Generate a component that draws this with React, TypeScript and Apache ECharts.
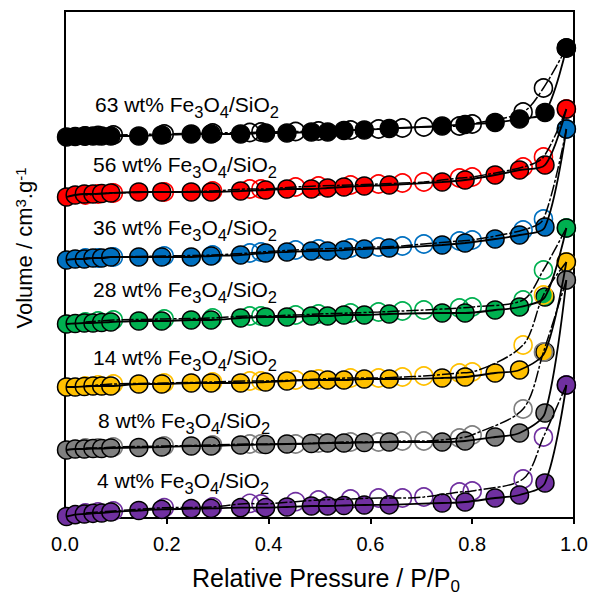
import { useEffect, useRef } from 'react';
import * as echarts from 'echarts';

// Relative pressure (P/P0) of the adsorption and desorption branches
const PRESSURE_ADS = [0.003, 0.02, 0.038, 0.055, 0.072, 0.09, 0.145, 0.19, 0.248, 0.287, 0.345, 0.394, 0.436, 0.484, 0.516, 0.548, 0.588, 0.637, 0.741, 0.786, 0.845, 0.893, 0.943, 0.985];
const PRESSURE_DES = [0.985, 0.94, 0.9, 0.8, 0.775, 0.705, 0.663, 0.616, 0.561, 0.498, 0.453, 0.385, 0.363, 0.29, 0.195, 0.095, 0.065, 0.04];

// Fe3O4 loading (wt%) and colour of each sample
const LOADINGS = [63, 56, 36, 28, 14, 8, 4];
const COLORS = ['#000000', '#FF0000', '#0070C0', '#00B050', '#FFC000', '#808080', '#7030A0'];

// Adsorbed volume, stacked with vertical offsets (arbitrary units)
const ADS_63 = [381, 381.5, 382, 382, 382, 382, 382, 383, 384, 384, 384, 385, 385, 386, 386, 387.5, 388, 389.5, 392, 393.5, 395.5, 399, 405.5, 470];
const DES_63 = [470, 430, 406, 394, 392, 391, 390, 389, 388, 387, 386.5, 386, 385.5, 385, 384, 383, 382.5, 382];

const ADS_56 = [321, 323, 324, 324, 324.5, 325, 326, 326, 326, 326, 327, 328, 329, 329, 330, 331, 332, 333, 336, 338, 343, 348, 353, 409];
const DES_56 = [409, 361, 351, 341, 340, 336, 335, 334, 333, 332, 331, 329, 329, 327, 326, 325, 324, 323];

const ADS_36 = [258, 259, 259, 260, 260, 261, 261, 261, 261, 262, 263, 265, 266, 267, 267, 268, 269, 270, 273, 275, 279, 283, 291, 389];
const DES_36 = [389, 299, 288, 278, 277, 274, 272, 271, 270, 269, 268, 266, 265, 263, 262, 261, 260, 260];

const ADS_28 = [194, 194.5, 195, 195, 195.5, 196, 197, 197, 198, 198, 200, 201, 201, 202, 202, 203, 203, 204, 205, 205, 208, 211, 221, 290];
const DES_28 = [290, 248, 218, 211, 210, 208, 207, 206, 205, 204, 203, 202, 202, 200, 199, 198, 197, 196];

const ADS_14 = [131, 131, 131.5, 132, 132, 132, 134, 134, 135, 135, 135, 136, 137, 138, 138, 138, 139, 139, 140, 141, 145, 148, 166, 256];
const DES_14 = [256, 223, 173, 146, 145, 142, 141, 140, 140, 139, 138, 137, 137, 136, 135, 134, 133, 132];

const ADS_8 = [68, 69, 69, 69.5, 69.5, 70, 70.5, 71, 72, 72, 73, 73.5, 74, 74.5, 75, 75, 75.5, 76, 76, 77, 81, 85, 105, 238];
const DES_8 = [238, 166, 109, 83, 80, 77, 77, 76, 76, 75, 74, 74, 74, 73, 72, 71, 70, 70];

const ADS_4 = [1.5, 3.3, 4, 4.7, 5, 6, 7.5, 8.6, 9.3, 9.6, 10.3, 10.3, 11, 12, 12, 12.5, 13, 13.2, 15, 16, 20, 23, 35, 133];
const DES_4 = [133, 81, 39, 27, 26, 21, 20, 20, 19, 18, 16.3, 14, 14.6, 11, 10.3, 7, 6, 5];

const ADSORPTION = [ADS_63, ADS_56, ADS_36, ADS_28, ADS_14, ADS_8, ADS_4];
const DESORPTION = [DES_63, DES_56, DES_36, DES_28, DES_14, DES_8, DES_4];

const X_MIN = 0;
const X_MAX = 1;
const X_STEP = 0.2;
const Y_MAX = 507;

const FONT = '"Liberation Sans", Arial, Helvetica, sans-serif';

// caption anchors: left edge and vertical centre of the main glyphs (px)
const CAPTION_POS: [number, number][] = [
  [95, 104.5], [93, 164], [93, 227], [93, 289], [93, 357], [98, 420], [97, 480],
];

const pair = (xs: number[], ys: number[]) => xs.map((x, i) => [x, ys[i]]);

export default function App() {
  const ref = useRef<HTMLDivElement>(null);

  useEffect(() => {
    const chart = echarts.init(ref.current!, null, { renderer: 'svg' });

    const series: any[] = [];
    LOADINGS.forEach((_, i) => {
      const ads = pair(PRESSURE_ADS, ADSORPTION[i]);
      const des = pair(PRESSURE_DES, DESORPTION[i]);
      series.push({
        type: 'line', data: ads, symbol: 'none', showSymbol: false, smooth: 0.3, silent: true,
        lineStyle: { color: '#000', width: 1.8 },
      });
      series.push({
        type: 'scatter', data: des, symbol: 'circle', symbolSize: 18, silent: true,
        itemStyle: { color: 'rgba(0,0,0,0)', borderColor: COLORS[i], borderWidth: 1.6, opacity: 1 },
      });
      series.push({
        type: 'scatter', data: ads, symbol: 'circle', symbolSize: 18, silent: true,
        itemStyle: { color: COLORS[i], borderColor: '#000', borderWidth: 1.5, opacity: 1 },
      });
      series.push({
        type: 'line', data: des, symbol: 'none', showSymbol: false, smooth: 0.3, silent: true,
        lineStyle: { color: '#000', width: 1.5, type: [12, 2, 3, 2] },
      });
    });

    // subscripts are pushed down with top padding inside the rich-text line
    const captionRich = {
      n: { fontSize: 21, verticalAlign: 'top', fontFamily: FONT, fill: '#000' },
      s: { fontSize: 16.5, verticalAlign: 'top', padding: [9.5, 0, 0, 0], fontFamily: FONT, fill: '#000' },
    };

    const captions = LOADINGS.map((n, i) => ({
      type: 'text',
      x: CAPTION_POS[i][0],
      y: CAPTION_POS[i][1] - 10.5,
      silent: true,
      style: {
        text: `{n|${n} wt% Fe}{s|3}{n|O}{s|4}{n|/SiO}{s|2}`,
        rich: captionRich,
        align: 'left',
        verticalAlign: 'top',
      },
    }));

    const xTitle = {
      type: 'text',
      x: 326,
      y: 578 - 12.5,
      silent: true,
      style: {
        text: '{n|Relative Pressure / P/P}{s|0}',
        align: 'center',
        verticalAlign: 'top',
        rich: {
          n: { fontSize: 25, verticalAlign: 'top', fontFamily: FONT, fill: '#000' },
          s: { fontSize: 17, verticalAlign: 'top', padding: [12, 0, 0, 0], fontFamily: FONT, fill: '#000' },
        },
      },
    };

    const yTitle = {
      type: 'text',
      x: 24,
      y: 248,
      rotation: Math.PI / 2,
      silent: true,
      style: {
        text: '{n|Volume / cm}{p|3}{n|.g}{p|-1}',
        align: 'center',
        verticalAlign: 'middle',
        rich: {
          n: { fontSize: 22, verticalAlign: 'top', fontFamily: FONT, fill: '#000' },
          p: { fontSize: 15, verticalAlign: 'top', fontFamily: FONT, fill: '#000' },
        },
      },
    };

    chart.setOption({
      animation: false,
      backgroundColor: '#fff',
      grid: {
        left: 65, right: 18, top: 11, bottom: 77,
        show: true, borderColor: '#000', borderWidth: 2, backgroundColor: 'transparent',
      },
      xAxis: {
        type: 'value', min: X_MIN, max: X_MAX, interval: X_STEP,
        axisLine: { show: true, lineStyle: { color: '#000', width: 2 } },
        axisTick: { show: true, inside: false, length: 6, lineStyle: { color: '#000', width: 2 } },
        axisLabel: {
          color: '#000', fontSize: 20, fontFamily: FONT, margin: 16,
          formatter: (v: number) => v.toFixed(1),
        },
        splitLine: { show: false },
      },
      yAxis: {
        type: 'value', min: 0, max: Y_MAX,
        axisLine: { show: true, lineStyle: { color: '#000', width: 2 } },
        axisTick: { show: false },
        axisLabel: { show: false },
        splitLine: { show: false },
      },
      graphic: [...captions, xTitle, yTitle],
      series,
    });

    return () => chart.dispose();
  }, []);

  return (
    <div
      ref={ref}
      style={{ position: 'fixed', left: 0, top: 0, width: 592, height: 595, background: '#fff' }}
    />
  );
}
